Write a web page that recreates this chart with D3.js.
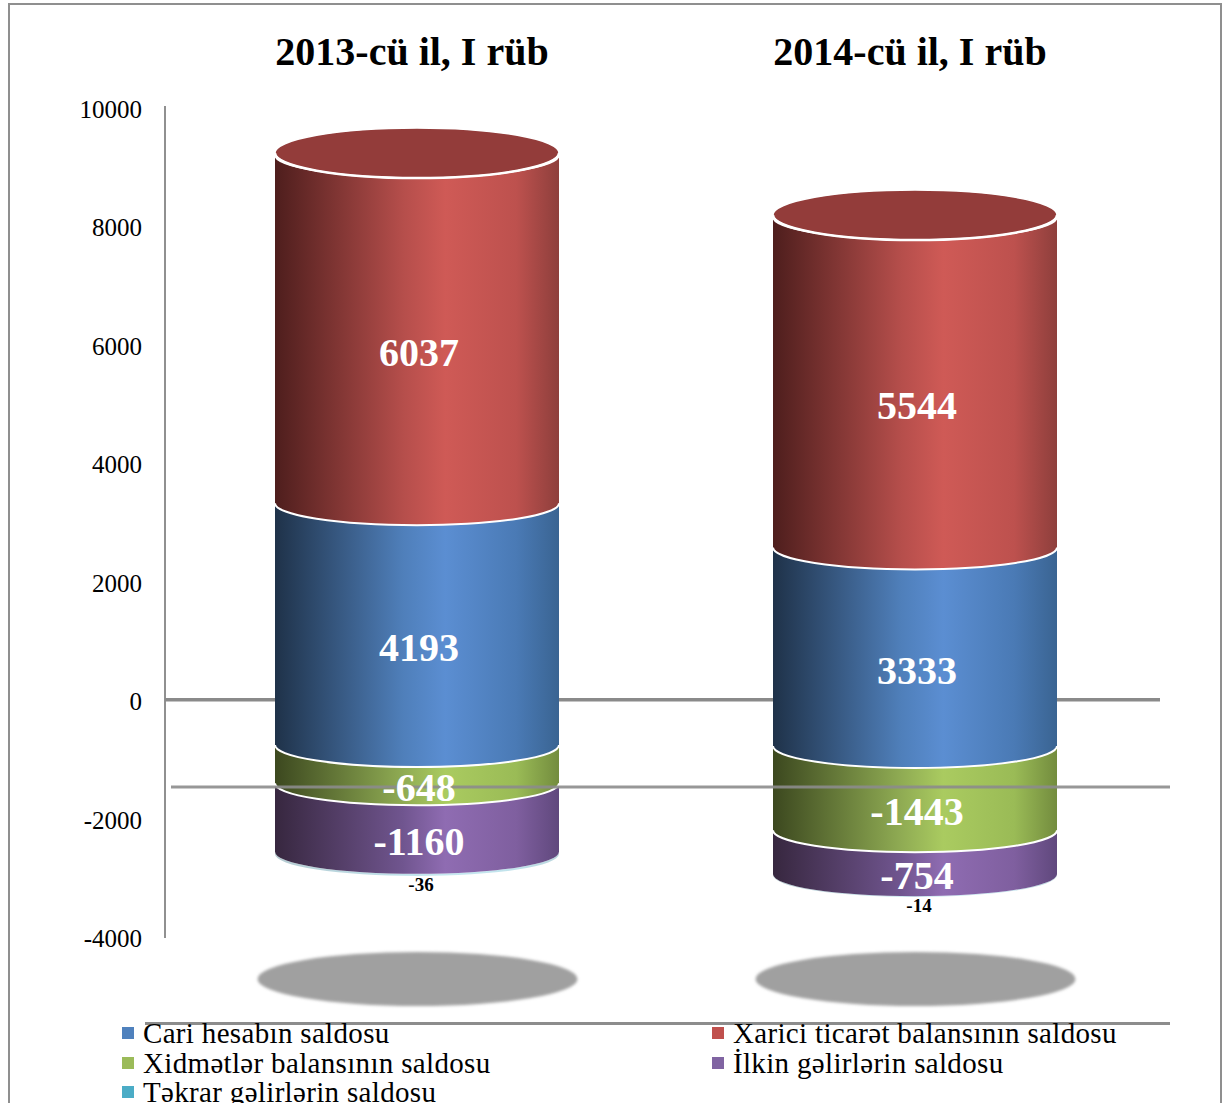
<!DOCTYPE html>
<html><head><meta charset="utf-8">
<script src="https://cdn.jsdelivr.net/npm/d3@7/dist/d3.min.js"></script>
<style>html,body{margin:0;padding:0;background:#fff;overflow:hidden}svg{display:block;font-family:"Liberation Serif",serif}</style>
</head><body><svg id="c" width="1222" height="1103"></svg>
<script>
const years = ["2013-cü il, I rüb", "2014-cü il, I rüb"];
const seriesNames = ["Cari hesabın saldosu","Xarici ticarət balansının saldosu","Xidmətlər balansının saldosu","İlkin gəlirlərin saldosu","Təkrar gəlirlərin saldosu"];
const cari = [4193, 3333];
const xarici = [6037, 5544];
const xidmet = [-648, -1443];
const ilkin = [-1160, -754];
const tekrar = [-36, -14];
const axisTicks = [-4000,-2000,0,2000,4000,6000,8000,10000];

const allSeries = [cari, xarici, xidmet, ilkin, tekrar];
const keys = d3.range(allSeries.length);
const rows = years.map((_, i) => keys.map(k => allSeries[k][i]));
const stacked = d3.stack().keys(keys).offset(d3.stackOffsetDiverging)(rows);

const svg = d3.select("#c");
const defs = svg.append("defs");
const ramps = [
  ["#1f3249","#4f7fba","#5b8ed2","#4a7ab5","#3a6492"],
  ["#4e1e1d","#b54e4b","#cf5a56","#bd514e","#8e3f3c"],
  ["#3c481f","#8fab53","#aacb60","#9abb56","#738c3e"],
  ["#37273f","#70558f","#8f6cb2","#7f5f9f","#60487d"],
  ["#2a6a7c","#4bacc6","#5fc0d8","#4bacc6","#3a8a9f"]
];
const legendColors = ["#4f81bd","#c0504d","#9bbb59","#8064a2","#4bacc6"];
ramps.forEach((r,i)=>{
  const g = defs.append("linearGradient").attr("id","g"+i);
  [[0,r[0]],[.45,r[1]],[.6,r[2]],[.85,r[3]],[1,r[4]]].forEach(([o,c])=>g.append("stop").attr("offset",o).attr("stop-color",c));
});
defs.append("filter").attr("id","soft").append("feGaussianBlur").attr("stdDeviation",1.6);

// frame
svg.append("path").attr("d","M9,1103V4H1221V1103").attr("fill","none").attr("stroke","#8f8f8f").attr("stroke-width",2);

// value axis
const axisY = d3.scaleLinear().domain([-4000,10000]).range([938,109]);
const ax = svg.append("g");
ax.append("line").attr("x1",165).attr("x2",165).attr("y1",106).attr("y2",938).attr("stroke","#909090").attr("stroke-width",2);
ax.selectAll("text").data(axisTicks).join("text")
  .attr("x",142).attr("y",d=>axisY(d)+9).attr("text-anchor","end").attr("font-size",25).attr("fill","#000").text(d=>d);

// zero line, behind cylinders
svg.append("line").attr("x1",165).attr("x2",1160).attr("y1",axisY(0)-1.5).attr("y2",axisY(0)-1.5).attr("stroke","#8a8a8a").attr("stroke-width",3.5);

// cylinder placement (the picture's 3D projection differs slightly per column)
const cx = d3.scalePoint().domain([0,1]).range([417,915]);
const rx = 142, ry = 22, topRy = 25;
const colScale = [
  d3.scaleLinear().domain([-1844,0,10230]).range([854,745,155]),
  d3.scaleLinear().domain([-2211,0,8877]).range([875,746,217])
];

// ground shadows
svg.selectAll("ellipse.sh").data(years).join("ellipse").attr("class","sh")
  .attr("cx",(d,i)=>cx(i)+.5).attr("cy",979).attr("rx",160).attr("ry",27).attr("fill","#a0a0a0").attr("filter","url(#soft)");

const seg = (x,y0,y1)=>`M${x-rx},${y0}A${rx},${ry} 0 0 0 ${x+rx},${y0}L${x+rx},${y1}A${rx},${ry} 0 0 1 ${x-rx},${y1}Z`;
const draw = [1,0,2,3,4];
years.forEach((_,i)=>{
  const y = colScale[i], x = cx(i);
  const g = svg.append("g");
  draw.slice().reverse().forEach(k=>{
    const [a,b] = stacked[k][i];
    const yt = y(Math.max(a,b)), yb = y(Math.min(a,b));
    g.append("path").attr("d",seg(x,yt,yb)).attr("fill",`url(#g${k})`).attr("opacity",k===4?.35:1);
  });
  draw.forEach(k=>{
    const [a,b] = stacked[k][i];
    const yt = y(Math.max(a,b));
    if(k!==4) g.append("path").attr("d",`M${x-rx},${yt}A${rx},${ry} 0 0 0 ${x+rx},${yt}`).attr("fill","none").attr("stroke","#fff").attr("stroke-width",2);
  });
  const topY = y(stacked[1][i][1]);
  g.append("ellipse").attr("cx",x).attr("cy",topY-2).attr("rx",rx).attr("ry",topRy).attr("fill","#933c3a").attr("stroke","#fff").attr("stroke-width",1.5);
  g.append("path").attr("d",`M${x-rx},${topY-2}A${rx},${topRy} 0 0 0 ${x+rx},${topY-2}`).attr("fill","none").attr("stroke","#fff").attr("stroke-width",2.5);
});

// line crossing in front of the cylinders
svg.append("line").attr("x1",171).attr("x2",1170).attr("y1",787).attr("y2",787).attr("stroke","#8c8c8c").attr("stroke-width",3).attr("opacity",.9);

// labels
years.forEach((_,i)=>{
  const y = colScale[i], x = cx(i)+2;
  keys.forEach(k=>{
    const [a,b] = stacked[k][i];
    const small = k===4;
    svg.append("text").attr("x",small?x+2:x).attr("text-anchor","middle")
      .attr("y",small? y(Math.min(a,b))+37 : (y(a)+y(b))/2+22+15)
      .attr("font-weight","bold").attr("font-size",small?19:40)
      .attr("fill",small?"#000":"#fff").text(allSeries[k][i]);
  });
});

// titles
svg.selectAll("text.t").data(years).join("text").attr("class","t")
  .attr("x",(d,i)=>i?910:412).attr("y",65).attr("text-anchor","middle")
  .attr("font-weight","bold").attr("font-size",40).text(d=>d);

// legend rule
svg.append("line").attr("x1",145).attr("x2",1170).attr("y1",1023.5).attr("y2",1023.5).attr("stroke","#8c8c8c").attr("stroke-width",3);

const legendCol = [122,712], legendRow = [1033,1063,1092];
seriesNames.forEach((n,i)=>{
  const lx = legendCol[i%2], ly = legendRow[Math.floor(i/2)];
  svg.append("rect").attr("x",lx).attr("y",ly-6).attr("width",12).attr("height",12).attr("fill",legendColors[i]);
  svg.append("text").attr("x",lx+21).attr("y",ly+10).attr("font-size",29).attr("letter-spacing",.33).attr("fill","#000").text(n);
});
</script></body></html>
